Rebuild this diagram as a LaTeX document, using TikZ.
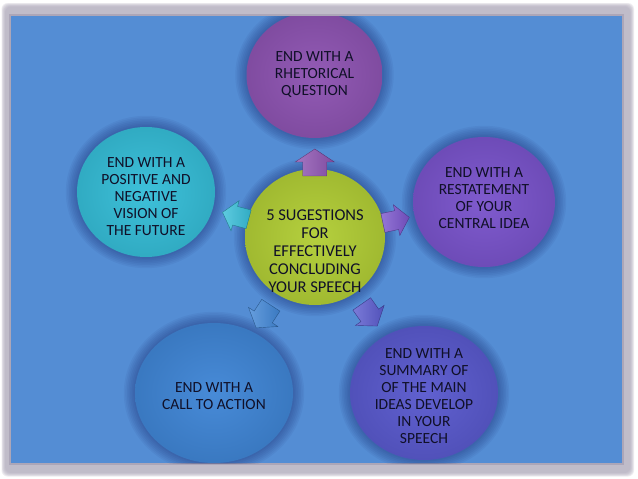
\documentclass[tikz,border=0pt]{standalone}
\usepackage{fontspec}
\setmainfont{Carlito}
\usetikzlibrary{shapes.geometric,calc}
\definecolor{bg}{RGB}{84,141,212}
\definecolor{framec}{RGB}{172,166,184}
\definecolor{haloc}{RGB}{25,45,115}
\definecolor{txt}{RGB}{16,16,40}
\definecolor{cTop}{RGB}{142,84,178}
\definecolor{cRight}{RGB}{122,84,204}
\definecolor{cBR}{RGB}{90,90,206}
\definecolor{cBL}{RGB}{64,134,214}
\definecolor{cLeft}{RGB}{54,190,216}
\definecolor{cMid}{RGB}{178,206,54}
\newcommand\myhalo[3]{%
  \foreach \k in {1,...,7}{\fill[haloc,opacity=0.065] (#1) ellipse[x radius={(#2+1.6*\k)*1pt}, y radius={(#3+1.6*\k)*1pt}];}}
\tikzset{
  bubble/.style={ellipse, inner sep=0pt},
  lab/.style={inner sep=0pt, align=center, text=txt, font=\fontsize{15.5}{17}\selectfont},
  bub/.style={inner color=#1!96!white, outer color=#1!90!black},
  house/.pic={\path[pic actions] (13.5,0) -- (0.5,19.5) -- (0.5,12) -- (-13.5,12) -- (-13.5,-12) -- (0.5,-12) -- (0.5,-19.5) -- cycle;},
  arr/.style={draw=#1!65!black, line width=0.4pt, left color=#1!80!white, right color=#1!90!black},
}
\begin{document}
\begin{tikzpicture}[x=1pt,y=-1pt]
\useasboundingbox (0,0) rectangle (638,479);
\fill[white] (0,0) rectangle (638,479);
% frame
\foreach \k in {0,...,5}{\fill[framec,opacity=0.2,rounded corners=6pt] (5-\k*0.7,6.5-\k*0.7) rectangle (630.5+\k*0.7,473+\k*0.7);}
\fill[framec] (9,14) rectangle (624,465);
\fill[bg] (11,16) rectangle (622,463);
% positions
\coordinate (pM) at (315,237);
\coordinate (pT) at (314.5,75);
\coordinate (pR) at (484,202);
\coordinate (pL) at (146,192);
\coordinate (pBL) at (214,393);
\coordinate (pBR) at (424,393);
\begin{scope}
\clip (11,16) rectangle (622,463);
\myhalo{pT}{68}{63}
\myhalo{pR}{71}{65}
\myhalo{pL}{69}{65}
\myhalo{pBL}{79}{70}
\myhalo{pBR}{74}{67}
\myhalo{pM}{70}{68}
\node[bubble, minimum width=136pt, minimum height=126pt, bub=cTop] (T) at (pT) {};
\node[bubble, minimum width=142pt, minimum height=130pt, bub=cRight] (R) at (pR) {};
\node[bubble, minimum width=138pt, minimum height=130pt, bub=cLeft] (L) at (pL) {};
\node[bubble, minimum width=158pt, minimum height=140pt, bub=cBL] (BL) at (pBL) {};
\node[bubble, minimum width=148pt, minimum height=134pt, bub=cBR] (BR) at (pBR) {};
\node[bubble, minimum width=140pt, minimum height=136pt, bub=cMid] (M) at (pM) {};
\end{scope}
% texts
\node[lab] (Ttxt) at (T) {END WITH A\\RHETORICAL\\QUESTION};
\node[lab] (Rtxt) at ($(R)+(0,-4)$) {END WITH A\\RESTATEMENT\\OF YOUR\\CENTRAL IDEA};
\node[lab] (Ltxt) at ($(L)+(0,5)$) {END WITH A\\POSITIVE AND\\NEGATIVE\\VISION OF\\THE FUTURE};
\node[lab] (BLtxt) at ($(BL)+(0,3)$) {END WITH A\\CALL TO ACTION};
\node[lab] (BRtxt) at ($(BR)+(0,3)$) {END WITH A\\SUMMARY OF\\OF THE MAIN\\IDEAS DEVELOP\\IN YOUR\\SPEECH};
\node[lab, font=\fontsize{16.5}{18}\selectfont] (Mtxt) at ($(M)+(0,14)$) {5 SUGESTIONS\\FOR\\EFFECTIVELY\\CONCLUDING\\YOUR SPEECH};
% arrows
\pic[arr=cTop, rotate=90] at ($(M)!0.46!(T)$) {house};
\pic[arr=cRight, rotate=12, yscale=0.8] at ($(M)!0.48!(R)$) {house};
\pic[arr=cLeft, rotate=165, yscale=0.8] at ($(M)!0.47!(L)$) {house};
\pic[arr=cBL, rotate=-123, yscale=0.9] at ($(M)!0.51!(BL)$) {house};
\pic[arr=cBR, rotate=-55, yscale=0.9] at ($(M)!0.5!(BR)$) {house};
\end{tikzpicture}
\end{document}
